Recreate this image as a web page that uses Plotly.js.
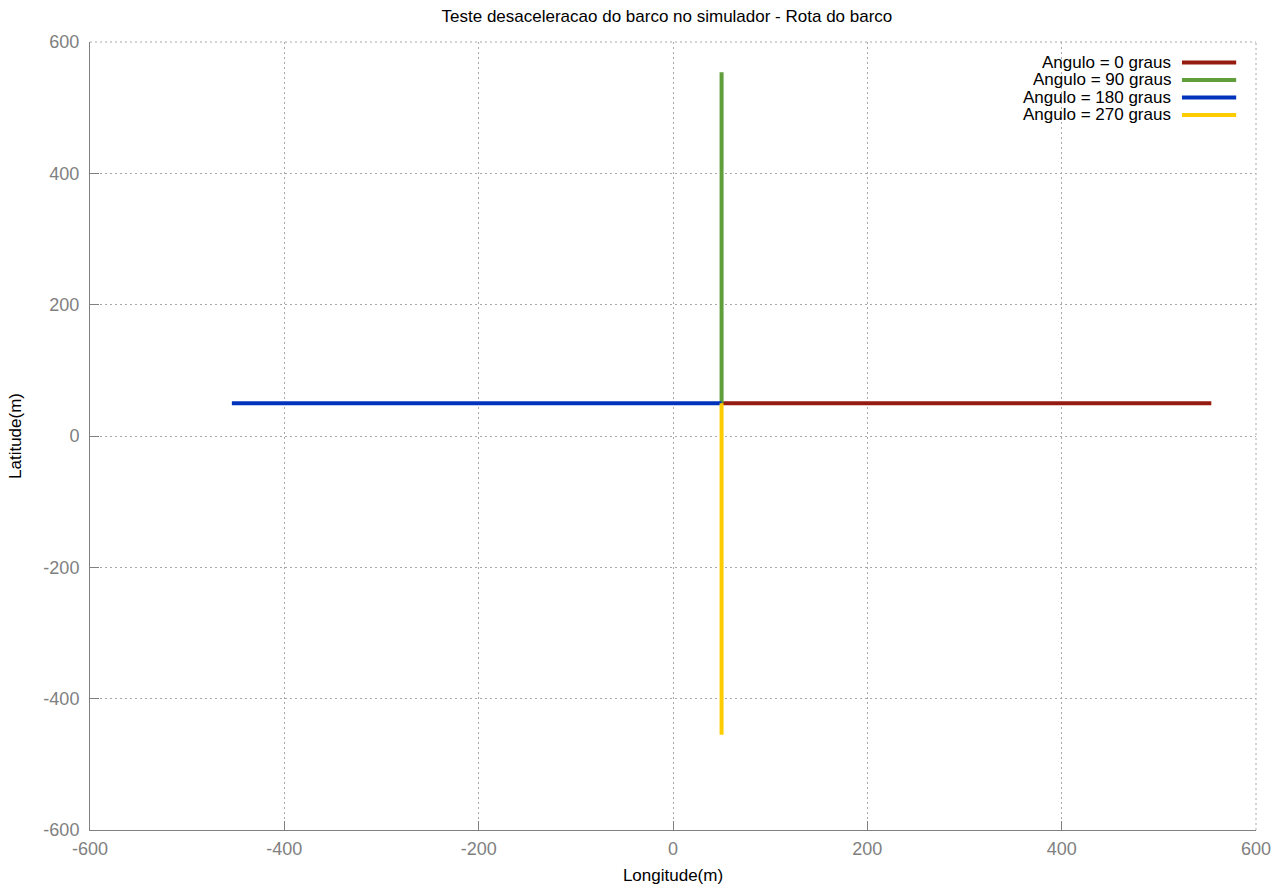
<!DOCTYPE html>
<html>
<head>
<meta charset="utf-8">
<script src="https://cdn.plot.ly/plotly-3.0.1.min.js"></script>
<style>
  html, body { margin: 0; padding: 0; background: #fff; }
  #chart { width: 1285px; height: 890px; }
</style>
</head>
<body>
<div id="chart"></div>
<script>
// Rotas do barco para cada angulo inicial (metros)
const seriesNames = ["Angulo = 0 graus", "Angulo = 90 graus", "Angulo = 180 graus", "Angulo = 270 graus"];
const seriesColors = ["#951a0f", "#5f9e3a", "#0033bb", "#ffcc00"];

const lon0 = [50, 554];
const lat0 = [50, 50];
const lon90 = [50, 50];
const lat90 = [50, 554];
const lon180 = [50, -454];
const lat180 = [50, 50];
const lon270 = [50, 50];
const lat270 = [50, -455];

const tickVals = [-600, -400, -200, 0, 200, 400, 600];

const lonSets = [lon0, lon90, lon180, lon270];
const latSets = [lat0, lat90, lat180, lat270];

const FONT = "Liberation Sans, Arial, sans-serif";

const traces = lonSets.map((lon, i) => ({
  x: lon,
  y: latSets[i],
  type: "scatter",
  mode: "lines",
  name: seriesNames[i],
  line: { color: seriesColors[i], width: 4 },
  showlegend: false,
  hoverinfo: "skip"
}));

// Legend in gnuplot style: right-aligned label followed by the line sample
const legendTop = 0.974;
const legendStep = 0.0222;
const annotations = [];
const shapes = [];
seriesNames.forEach((name, i) => {
  const yy = legendTop - i * legendStep;
  annotations.push({
    xref: "paper", yref: "paper",
    x: 0.9285, y: yy,
    xanchor: "right", yanchor: "middle",
    text: name, showarrow: false,
    font: { family: FONT, size: 17, color: "#000" }
  });
  shapes.push({
    type: "line", xref: "paper", yref: "paper",
    x0: 0.9365, x1: 0.9830, y0: yy, y1: yy,
    line: { color: seriesColors[i], width: 4 }
  });
});

// Dotted frame on the top and right edges (grid at +600)
const gridColor = "#a8a8a8";
const gridDash = "2px,3px";
shapes.push({
  type: "line", xref: "paper", yref: "paper", x0: 0, x1: 1, y0: 1, y1: 1,
  line: { color: gridColor, width: 1, dash: gridDash }, layer: "below"
});
shapes.push({
  type: "line", xref: "paper", yref: "paper", x0: 1, x1: 1, y0: 0, y1: 1,
  line: { color: gridColor, width: 1, dash: gridDash }, layer: "below"
});

const axisCommon = {
  range: [-600, 600],
  tickvals: tickVals,
  ticktext: tickVals.map(String),
  showgrid: true,
  gridcolor: gridColor,
  griddash: gridDash,
  gridwidth: 1,
  zeroline: false,
  showline: true,
  linecolor: "#808080",
  linewidth: 1,
  ticks: "inside",
  ticklen: 9,
  tickcolor: "#808080",
  tickfont: { family: FONT, size: 18, color: "#808080" }
};

const layout = {
  width: 1285,
  height: 890,
  paper_bgcolor: "#fff",
  plot_bgcolor: "#fff",
  margin: { l: 90, r: 29, t: 42, b: 60 },
  title: {
    text: "Teste desaceleracao do barco no simulador - Rota do barco",
    font: { family: FONT, size: 17, color: "#000" },
    x: 0.519, xanchor: "center",
    y: 0.982, yanchor: "middle"
  },
  xaxis: Object.assign({}, axisCommon, {
    ticklabelstandoff: 2,
    title: { text: "Longitude(m)", standoff: 11,
      font: { family: FONT, size: 17, color: "#000" } }
  }),
  yaxis: Object.assign({}, axisCommon, {
    ticklabelstandoff: 6,
    title: { text: "Latitude(m)", standoff: 17,
      font: { family: FONT, size: 17, color: "#000" } }
  }),
  annotations: annotations,
  shapes: shapes,
  showlegend: false
};

Plotly.newPlot("chart", traces, layout, { displayModeBar: false, staticPlot: true });
</script>
</body>
</html>
